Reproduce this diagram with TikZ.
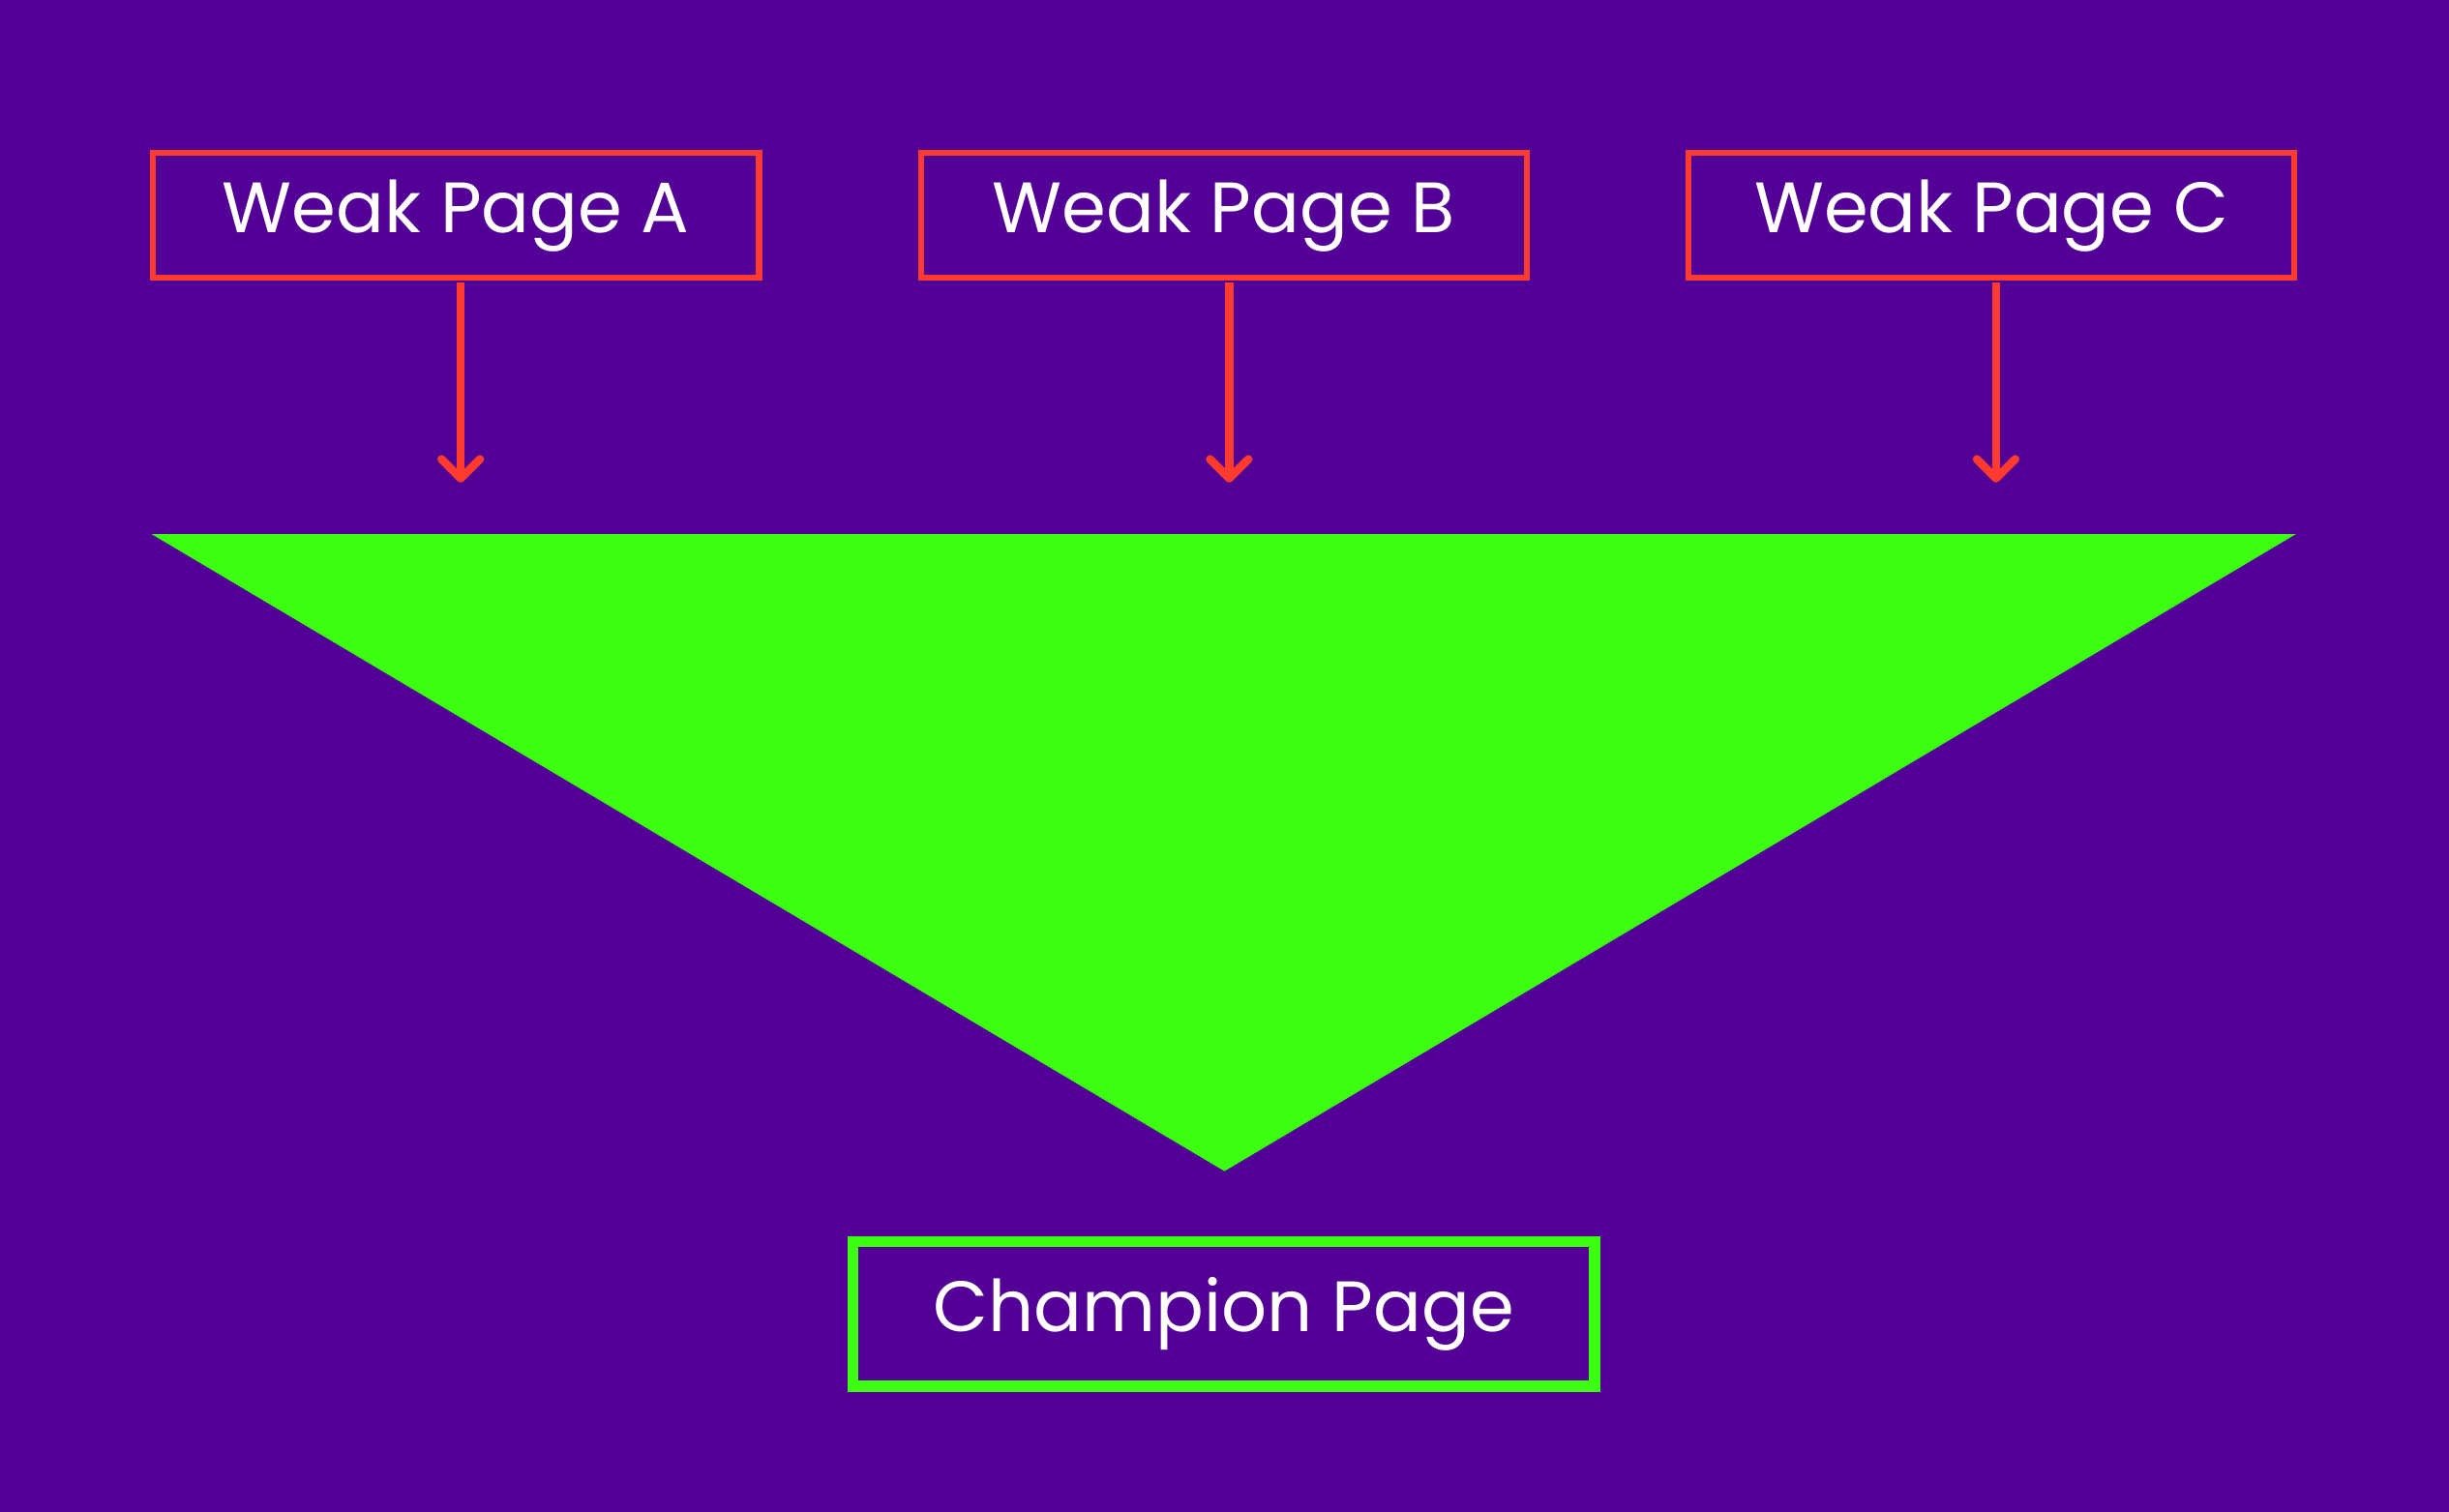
\documentclass[tikz,border=0pt]{standalone}
\usepackage{fontspec}
\setmainfont{Poppins}
\usetikzlibrary{arrows.meta}
\definecolor{bg}{HTML}{530096}
\definecolor{rd}{HTML}{FF3B2F}
\definecolor{gr}{HTML}{3CFF12}
\begin{document}
\begin{tikzpicture}[x=0.02cm,y=-0.02cm,
  wbox/.style={draw=rd,line width=2.2pt,minimum width=7.76cm,minimum height=1.6cm,text=white,font=\fontsize{26}{30}\selectfont,inner sep=0pt},
  cbox/.style={draw=gr,line width=4pt,minimum width=9.5cm,minimum height=1.85cm,text=white,font=\fontsize{26}{30}\selectfont,inner sep=0pt},
  arr/.style={draw=rd,line width=3pt,-{Straight Barb[length=7pt,width=14pt,line width=3pt,round]}}]
\fill[bg] (0,0) rectangle (1568,968);
\node[wbox] (a) at (292,138) {Weak Page A};
\node[wbox] (b) at (783.5,138) {Weak Page B};
\node[wbox] (c) at (1275,138) {Weak Page C};
\coordinate (ae) at (295,309);
\coordinate (be) at (787,309);
\coordinate (ce) at (1278,309);
\draw[arr] (295,181) -- (ae);
\draw[arr] (787,181) -- (be);
\draw[arr] (1278,181) -- (ce);
\fill[gr] (97,342) -- (1470,342) -- (784,750) -- cycle;
\node[cbox] (ch) at (783.5,841.5) {Champion Page};
\end{tikzpicture}
\end{document}
